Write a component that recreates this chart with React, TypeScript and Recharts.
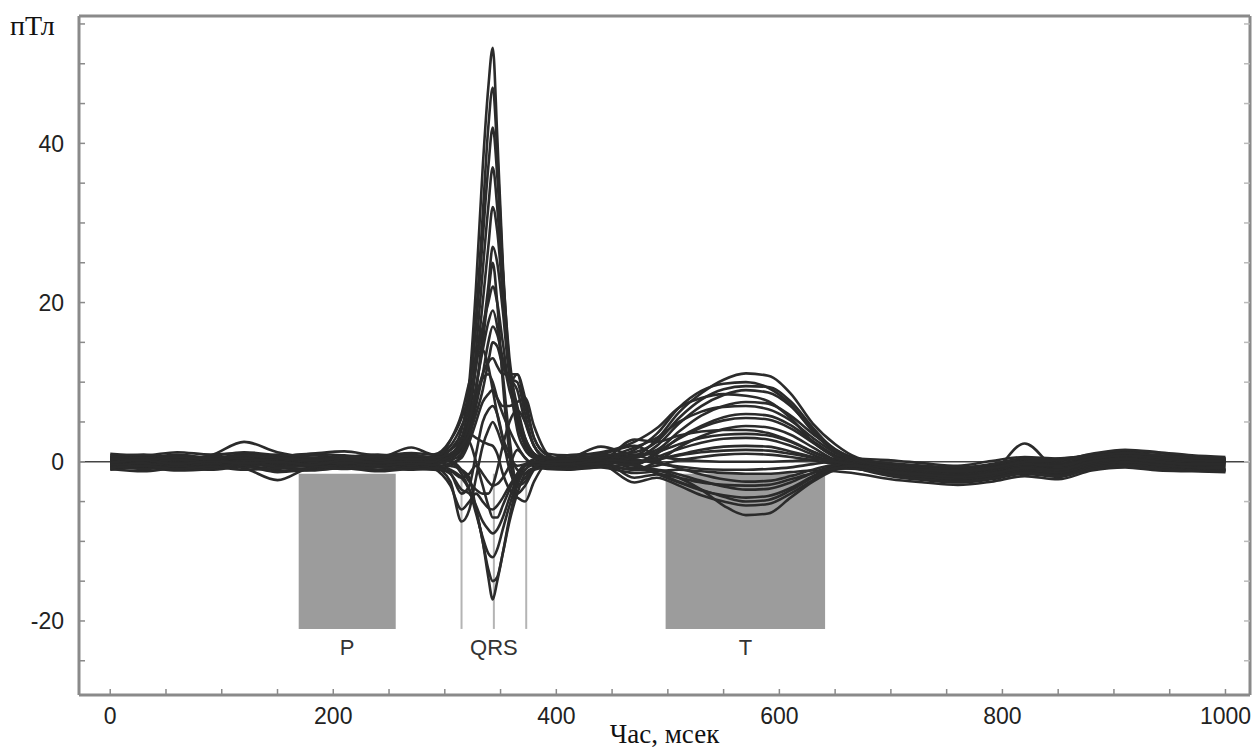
import { LineChart, Line, XAxis, YAxis, ReferenceLine, ReferenceArea } from "recharts";

// Sample times, ms (denser through the QRS complex)
const TIME_MS = [
  0, 30, 60, 90, 120, 150, 180, 210, 240, 270, 290,
  305, 315, 322, 328, 334, 339, 343, 347, 352, 358, 365, 372, 380, 392,
  410, 440, 470,
  490, 510, 530, 550, 570, 590, 610, 630, 650, 670,
  700, 730, 760, 790, 820, 850, 880, 910, 940, 970, 1000,
];

// Channel traces, pT
const CH_01 = [
  0.4, 0.6, 0.3, 0.8, 2.5, 1.2, 0.5, 0.2, 0.4, 0.6, 0.5,
  1.5, 4, 10, 22, 37, 47, 52, 41, 25, 12, 5, 2, 0.8, 0.4,
  0.3, 0.6, 0.8,
  2.8, 6.2, 8.6, 10.3, 11.1, 10.8, 8.6, 4.8, 2.2, 0.5,
  -0.3, -0.6, -0.8, -0.5, 0.2, 0.3, 0.8, 1.0, 0.6, 0.3, 0.2,
];
const CH_02 = [
  -0.2, 0.1, 0.3, 0.0, 0.5, 0.3, -0.2, 0.1, 0.5, 0.9, 0.4,
  1.0, 3.0, 8, 18, 31, 42, 47, 39, 24, 11, 4, 1.5, 0.5, 0.2,
  0.1, 0.4, 0.5,
  2.0, 4.8, 7.0, 8.4, 9.0, 8.7, 7.0, 4.0, 1.6, 0.3,
  -0.6, -1.0, -1.2, -0.8, -0.2, 0.3, 0.5, 0.7, 0.4, 0.1, 0.0,
];
const CH_03 = [
  0.8, 0.5, 0.9, 0.4, 0.2, 0.6, 1.0, 0.8, 0.5, 1.8, 0.9,
  2.7, 5.5, 9, 17, 28, 37, 42, 36, 24, 13, 6, 2.5, 1.0, 0.5,
  0.5, 1.9, 0.9,
  1.5, 3.8, 5.8, 7.0, 7.5, 7.3, 5.8, 3.5, 1.5, 0.4,
  0.2, -0.2, -0.5, 0.1, 0.6, 0.4, 0.9, 1.4, 1.1, 0.6, 0.4,
];
const CH_04 = [
  -0.5, -0.8, -0.4, -0.6, -0.2, -0.7, -0.9, -0.5, -0.3, -0.6, -0.4,
  0.5, 2.0, 6, 14, 24, 32, 37, 32, 22, 12, 6, 2.5, 0.5, -0.3,
  -0.5, 0.2, 1.5,
  3.5, 6.8, 8.9, 9.8, 10.0, 9.3, 7.2, 3.8, 1.2, -0.4,
  -1.2, -1.6, -2.0, -1.5, -0.8, -1.2, -0.3, 0.2, -0.2, -0.5, -0.6,
];
const CH_05 = [
  0.2, -0.1, 0.4, 0.2, 0.7, -0.3, 0.1, 0.4, -0.2, 0.3, 0.1,
  0.8, 2.5, 6, 12, 20, 27, 32, 29, 21, 12, 7, 3, 1.0, 0.2,
  0.0, 0.3, -0.4,
  1.0, 3.0, 4.5, 5.6, 6.0, 5.8, 4.6, 2.6, 0.8, -0.3,
  -0.9, -1.3, -1.0, -1.4, -0.6, -0.9, 0.1, 0.6, 0.2, -0.2, -0.3,
];
const CH_06 = [
  -1.0, -0.7, -1.1, -0.9, -0.4, -1.2, -0.8, -0.6, -1.0, -0.7, -0.9,
  -0.5, 1.0, 4, 9, 16, 22, 27, 25, 19, 11, 9, 5, 2, 0.2,
  -0.6, -0.3, -1.0,
  0.0, 1.8, 3.2, 4.1, 4.5, 4.3, 3.4, 1.8, 0.2, -0.8,
  -1.8, -2.3, -2.6, -2.2, -1.5, -1.9, -0.8, -0.4, -0.8, -1.0, -1.1,
];
const CH_07 = [
  0.6, 0.9, 0.5, 0.7, 1.2, 0.8, 0.3, 0.6, 0.9, 0.4, 0.7,
  2.0, 4.5, 7, 12, 17, 20, 22, 20, 15, 10, 11, 8, 3, 1.0,
  0.8, 1.2, 2.5,
  4.2, 6.8, 8.0, 8.5, 8.3, 7.6, 5.5, 2.5, 0.6, -0.2,
  -0.5, -0.9, -1.1, -0.6, 0.0, 0.4, 0.7, 1.2, 0.8, 0.5, 0.4,
];
const CH_08 = [
  -0.3, -0.6, -0.2, -0.5, -0.1, -0.4, -0.6, -0.2, -0.5, -0.3, -0.2,
  0.2, 1.0, 3.0, 7, 11, 15, 17, 16, 13, 9, 6, 3, 1.0, 0.0,
  -0.3, 0.0, -0.2,
  0.6, 1.6, 2.4, 2.9, 3.0, 2.8, 2.0, 0.9, -0.2, -0.7,
  -1.3, -1.7, -1.9, -1.6, -1.1, -1.4, -0.5, -0.1, -0.5, -0.8, -0.9,
];
const CH_09 = [
  0.1, 0.4, 0.0, 0.3, 0.5, 0.9, 0.4, 0.0, 0.2, 0.5, 0.3,
  0.5, 1.5, 4, 8, 11, 12.5, 13, 12, 11, 11, 11, 7, 3, 0.8,
  0.2, 0.6, 0.1,
  0.3, 0.9, 1.5, 1.9, 2.0, 1.9, 1.3, 0.6, -0.2, -0.5,
  -0.8, -1.1, -1.5, -1.0, -0.4, -0.7, 0.3, 0.8, 0.4, 0.1, 0.0,
];
const CH_10 = [
  -0.7, -0.4, -0.8, -0.3, -0.5, -0.9, -0.3, -0.6, -0.2, -0.5, -0.6,
  -0.2, 0.5, 2.5, 5, 7.5, 8.5, 9, 8, 7, 7, 7.5, 8, 4.5, 1.0,
  -0.2, 0.2, -0.3,
  1.2, 2.9, 4.3, 5.2, 5.5, 5.3, 4.2, 2.4, 0.6, -0.5,
  -1.4, -1.8, -2.2, -1.8, -1.2, -1.6, -0.6, -0.2, -0.6, -0.9, -1.0,
];
const CH_11 = [
  0.3, 0.0, 0.4, 0.1, 0.3, -0.2, 0.2, 0.5, 0.1, 0.3, -0.5,
  -2.5, -7.5, -6, -2, 2, 4, 5, 4, 2, 0.5, -0.5, -0.3, 0.0, 0.2,
  0.1, 0.4, -0.8,
  -0.5, 0.2, 0.6, 0.9, 1.0, 0.9, 0.6, 0.2, -0.3, -0.6,
  -1.0, -1.2, -1.4, -1.1, -0.3, -0.6, 0.4, 0.9, 0.5, 0.2, 0.1,
];
const CH_12 = [
  -0.9, -1.2, -0.8, -1.0, -0.6, -1.3, -1.0, -0.8, -1.2, -0.9, -1.0,
  -1.2, -2.0, -1.5, -0.5, -1.5, -2.5, -3, -2.8, -2, -0.5, 1.5, 0.5, -0.6, -0.9,
  -1.0, -0.7, -1.4,
  -1.2, -1.0, -1.2, -1.4, -1.5, -1.5, -1.3, -1.1, -1.2, -1.5,
  -2.2, -2.6, -2.9, -2.5, -1.8, -2.2, -1.1, -0.7, -1.1, -1.2, -1.3,
];
const CH_13 = [
  0.0, -0.3, 0.2, -0.1, 0.1, -0.5, -0.2, 0.1, -0.3, 0.0, -0.8,
  -3, -6, -5, -4, -5, -5.8, -6, -5.5, -4.5, -3, -1.5, -0.5, 0.0, -0.2,
  -0.4, -0.1, 0.8,
  0.0, -0.8, -1.6, -2.2, -2.5, -2.4, -1.8, -1.0, -0.4, -0.6,
  -1.1, -1.4, -1.6, -1.2, -0.6, -0.9, 0.0, 0.5, 0.1, -0.2, -0.2,
];
const CH_14 = [
  -0.4, -0.2, -0.6, -0.3, -0.8, -2.3, -0.7, -0.4, -0.6, -0.2, -0.5,
  -1.0, -2.0, -3.5, -5.5, -7.5, -8.5, -9, -8.5, -7, -4.5, -2, -0.5, -0.3, -0.6,
  -0.8, -0.5, -1.0,
  -1.0, -1.6, -2.4, -3.1, -3.5, -3.4, -2.6, -1.4, -0.6, -0.9,
  -1.6, -2.0, -2.3, -1.9, -1.3, -1.7, -0.7, -0.3, -0.7, -1.0, -1.0,
];
const CH_15 = [
  0.5, 0.7, 0.3, 0.6, 0.2, 0.4, 0.8, 0.5, 0.3, 0.7, 0.4,
  0.0, -1.5, -3.5, -6.5, -9.5, -11.5, -12, -11, -8.5, -5.5, -2.5, -0.5, 0.3, 0.5,
  0.3, 0.6, -0.2,
  -1.5, -2.6, -3.6, -4.2, -4.5, -4.3, -3.3, -1.8, -0.5, 0.1,
  -0.4, -0.7, -0.9, -0.6, 0.1, -0.2, 0.6, 1.1, 0.7, 0.4, 0.3,
];
const CH_16 = [
  -0.6, -0.9, -0.5, -0.8, -0.3, -0.7, -1.1, -0.7, -0.4, -0.8, -0.6,
  -1.5, -3.5, -4, -6, -10, -13.5, -15, -14.5, -11.5, -7.5, -4, -1.5, -0.8, -0.6,
  -0.7, -0.4, -2.6,
  -2.0, -3.0, -4.2, -5.0, -5.5, -5.3, -4.0, -2.3, -0.9, -0.8,
  -1.5, -1.9, -2.1, -1.7, -1.0, -1.3, -0.4, 0.0, -0.4, -0.7, -0.8,
];
const CH_17 = [
  0.0, 0.2, -0.2, 0.1, -0.4, 0.3, 0.0, -0.3, 0.2, -0.1, 0.0,
  -0.5, -1.0, -2, -6, -10, -14.5, -17.3, -15, -11.5, -7, -3, -1.0, -0.3, 0.0,
  0.2, 0.0, -0.5,
  -1.0, -2.0, -3.5, -5.5, -6.7, -6.5, -4.5, -2.5, -1.0, -0.3,
  -0.9, -1.2, -1.5, -1.1, -0.3, -0.6, 0.3, 0.7, 0.3, 0.0, -0.1,
];
const CH_18 = [
  1.0, 0.8, 1.2, 0.9, 1.1, 0.7, 1.0, 1.3, 0.8, 1.1, 0.9,
  1.5, 2.7, 3.5, 3, 2.5, 2.2, 2, 1, -1.5, -3.5, -4.5, -5, -2.5, 0.0,
  0.8, 1.0, 2.0,
  0.8, 0.3, 0.1, 0.0, 0.0, 0.0, 0.1, 0.3, 0.4, 0.2,
  -0.2, -0.5, -0.7, -0.3, 0.4, 0.2, 1.0, 1.5, 1.2, 0.8, 0.6,
];
const CH_19 = [
  -0.2, 0.2, -0.1, 0.3, 0.0, 0.2, -0.4, 0.0, 0.3, -0.1, 0.2,
  2.7, 6, 10, 13, 14, 12, 9, 6, 3, 1, -1, -1.5, -0.8, -0.3,
  -0.2, 0.1, 2.8,
  2.5, 3.3, 3.8, 4.0, 4.0, 3.6, 2.6, 1.3, 0.2, -0.4,
  -1.0, -1.3, -1.6, -1.2, 2.3, -0.8, 0.2, 0.6, 0.3, 0.0, -0.1,
];
const CH_20 = [
  0.7, 0.4, 0.8, 0.5, 0.9, 0.6, 0.3, 0.7, 0.4, 0.8, 0.6,
  0.8, 1.5, 4, 9, 15, 21, 25, 20, 10, 1, -4, -3, -1, 0.0,
  0.4, 0.7, 0.3,
  -0.2, -0.6, -0.9, -1.0, -1.0, -0.9, -0.7, -0.3, 0.0, -0.2,
  -0.7, -1.0, -1.2, -0.8, -0.2, -0.4, 0.5, 1.0, 0.6, 0.3, 0.2,
];
const CH_21 = [
  -0.3, -0.5, -0.1, -0.4, 0.2, -0.6, -0.3, -0.1, -0.5, -0.2, -0.4,
  0.5, 2.0, 5, 8, 10.5, 11, 10, 8, 6, 4, 2, 0.5, -0.3, -0.5,
  -0.4, -0.2, 0.6,
  1.2, 2.2, 3.0, 3.4, 3.5, 3.3, 2.5, 1.2, 0.1, -0.6,
  -1.2, -1.5, -1.8, -1.4, -0.9, -1.1, -0.2, 0.3, -0.1, -0.4, -0.5,
];
const CH_22 = [
  0.3, 0.5, 0.2, 0.6, 0.4, 0.1, 0.5, 0.3, 0.6, 0.2, 0.4,
  0.2, -1.0, -2.5, -3.5, -4, -4, -3, -1, 2, 5, 6.5, 5, 2, 0.5,
  0.3, 0.5, 1.8,
  3.0, 5.0, 6.3, 6.9, 7.0, 6.6, 5.2, 3.0, 1.1, 0.0,
  -0.5, -0.8, -1.0, -0.7, -0.1, 0.1, 0.6, 1.0, 0.7, 0.4, 0.3,
];
const CH_23 = [
  -0.8, -0.5, -0.9, -0.6, -1.0, -0.8, -0.5, -0.9, -0.7, -1.0, -0.8,
  -1.5, -4, -3, 1, 5, 6.5, 7, 6, 3, -1, -3, -2, -1.0, -0.7,
  -0.9, -0.6, -0.4,
  -1.4, -2.0, -2.6, -2.9, -3.0, -2.9, -2.2, -1.4, -0.8, -0.9,
  -1.7, -2.2, -2.5, -2.1, -1.4, -1.8, -0.9, -0.5, -0.9, -1.1, -1.2,
];
const CH_24 = [
  0.2, 0.0, 0.3, -0.2, 0.1, 0.3, 0.0, -0.2, 0.1, 0.4, 0.2,
  0.6, 2.0, 5, 9.5, 14, 17.5, 19, 17, 11, 3, -3, -2.5, -0.8, 0.0,
  0.1, 0.3, 0.0,
  0.3, 0.8, 1.2, 1.4, 1.5, 1.4, 1.0, 0.5, 0.0, -0.4,
  -0.8, -1.1, -1.3, -0.9, -0.3, -0.5, 0.4, 0.8, 0.5, 0.2, 0.1,
];
const CH_25 = [
  -0.1, 0.2, -0.3, 0.1, -0.2, 0.0, -0.4, 0.2, -0.1, 0.1, 0.0,
  1.5, 3, 2.5, 0, -3, -5.5, -7, -7, -5.5, -3.5, -1.5, -0.3, 0.0, -0.2,
  -0.3, 0.2, -2.0,
  -1.6, -2.5, -3.5, -4.4, -5.0, -4.8, -3.6, -2.0, -0.8, -0.5,
  -1.3, -1.6, -1.9, -1.5, -0.8, -1.0, 0.0, 0.4, 0.0, -0.3, -0.3,
];
const CH_26 = [
  0.4, 0.2, 0.6, 0.3, 0.8, 0.5, 0.2, 0.5, 0.7, 0.3, 0.5,
  1.0, 2.0, 3.5, 6, 9, 12.5, 15, 14.5, 12, 10.5, 10, 6, 2, 0.5,
  0.4, 0.8, 1.2,
  2.5, 5.5, 7.8, 9.1, 9.5, 9.4, 7.6, 4.3, 1.4, 0.2,
  -0.6, -1.0, -1.2, -0.8, 0.0, 0.2, 0.7, 1.1, 0.8, 0.5, 0.4,
];

const CHANNELS = [
  CH_01, CH_02, CH_03, CH_04, CH_05, CH_06, CH_07, CH_08, CH_09, CH_10, CH_11, CH_12, CH_13,
  CH_14, CH_15, CH_16, CH_17, CH_18, CH_19, CH_20, CH_21, CH_22, CH_23, CH_24, CH_25, CH_26,
];

// Axis ticks
const X_TICKS = [0, 50, 100, 150, 200, 250, 300, 350, 400, 450, 500, 550, 600, 650, 700, 750, 800, 850, 900, 950, 1000];
const X_LABELS = [0, 200, 400, 600, 800, 1000];
const Y_TICKS = [-25, -20, -15, -10, -5, 0, 5, 10, 15, 20, 25, 30, 35, 40, 45, 50, 55];
const Y_LABELS = [-20, 0, 20, 40];

// Wave intervals, ms
const P_WAVE = [169, 256];
const T_WAVE = [498, 641];
const QRS_MARKS = [315, 344, 373];
const WAVE_TOP = -1.5;
const WAVE_BOTTOM = -21;

const X_DOMAIN = [-28, 1022];
const Y_DOMAIN = [-29.3, 56];

const SANS = "'Liberation Sans', Arial, Helvetica, sans-serif";
const SERIF = "'Liberation Serif', 'Times New Roman', serif";
const FRAME = "#8a8a8a";

const rows = TIME_MS.map((t, i) => {
  const row: Record<string, number> = { t };
  CHANNELS.forEach((ch, k) => {
    row[`ch${k}`] = ch[i];
  });
  return row;
});

const XTick = ({ x, y, payload }: any) =>
  X_LABELS.includes(payload.value) ? (
    <text x={x} y={y} textAnchor="middle" fontSize={23} fill="#222" fontFamily={SANS}>
      {payload.value}
    </text>
  ) : (
    <g />
  );

const YTick = ({ x, y, payload }: any) =>
  Y_LABELS.includes(payload.value) ? (
    <text x={x} y={y} dy="0.36em" textAnchor="end" fontSize={23} fill="#222" fontFamily={SANS}>
      {payload.value}
    </text>
  ) : (
    <g />
  );

const NoTick = () => <g />;

export default function App() {
  return (
    <div style={{ position: "fixed", left: 0, top: 0, width: 1253, height: 749, background: "#fff" }}>
      <div
        style={{
          position: "absolute",
          left: 10,
          top: 12,
          fontFamily: SERIF,
          fontSize: 28,
          lineHeight: "28px",
          color: "#111",
        }}
      >
        пТл
      </div>
      <LineChart width={1253} height={749} data={rows} margin={{ top: 15, right: 2, bottom: 0, left: 0 }}>
        <XAxis
          dataKey="t"
          type="number"
          domain={X_DOMAIN}
          allowDataOverflow
          ticks={X_TICKS}
          interval={0}
          height={54}
          tickSize={-6}
          tickMargin={35}
          axisLine={{ stroke: FRAME, strokeWidth: 3 }}
          tickLine={{ stroke: FRAME, strokeWidth: 1.5 }}
          tick={XTick}
          label={{ value: "Час, мсек", position: "insideBottom", offset: 6, fontSize: 27, fill: "#111", fontFamily: SERIF }}
        />
        <XAxis
          xAxisId="top"
          orientation="top"
          type="number"
          domain={X_DOMAIN}
          allowDataOverflow
          ticks={X_TICKS}
          interval={0}
          height={1}
          tickSize={-6}
          axisLine={{ stroke: FRAME, strokeWidth: 3 }}
          tickLine={{ stroke: "#bbb", strokeWidth: 1.5 }}
          tick={NoTick}
        />
        <YAxis
          type="number"
          domain={Y_DOMAIN}
          allowDataOverflow
          ticks={Y_TICKS}
          interval={0}
          width={79}
          tickSize={-6}
          tickMargin={21}
          axisLine={{ stroke: FRAME, strokeWidth: 3 }}
          tickLine={{ stroke: FRAME, strokeWidth: 1.5 }}
          tick={YTick}
        />
        <YAxis
          yAxisId="right"
          orientation="right"
          type="number"
          domain={Y_DOMAIN}
          allowDataOverflow
          ticks={Y_TICKS}
          interval={0}
          width={1}
          tickSize={-6}
          axisLine={{ stroke: FRAME, strokeWidth: 3 }}
          tickLine={{ stroke: "#bbb", strokeWidth: 1.5 }}
          tick={NoTick}
        />

        <ReferenceArea
          x1={P_WAVE[0]}
          x2={P_WAVE[1]}
          y1={WAVE_BOTTOM}
          y2={WAVE_TOP}
          fill="#9c9c9c"
          fillOpacity={1}
          stroke="none"
          label={{ value: "P", position: "bottom", offset: 10, fontSize: 22, fill: "#333", fontFamily: SANS }}
        />
        <ReferenceArea
          x1={T_WAVE[0]}
          x2={T_WAVE[1]}
          y1={WAVE_BOTTOM}
          y2={WAVE_TOP}
          fill="#9c9c9c"
          fillOpacity={1}
          stroke="none"
          label={{ value: "T", position: "bottom", offset: 10, fontSize: 22, fill: "#333", fontFamily: SANS }}
        />
        <ReferenceArea
          x1={QRS_MARKS[0]}
          x2={QRS_MARKS[2]}
          y1={WAVE_BOTTOM}
          y2={WAVE_TOP}
          fill="none"
          fillOpacity={0}
          stroke="none"
          label={{ value: "QRS", position: "bottom", offset: 10, fontSize: 22, fill: "#333", fontFamily: SANS }}
        />
        {QRS_MARKS.map((m) => (
          <ReferenceLine
            key={m}
            segment={[
              { x: m, y: WAVE_TOP },
              { x: m, y: WAVE_BOTTOM },
            ]}
            stroke="#b4b4b4"
            strokeWidth={2}
          />
        ))}
        <ReferenceLine y={0} stroke="#444" strokeWidth={1.5} />

        {CHANNELS.map((_, k) => (
          <Line
            key={k}
            dataKey={`ch${k}`}
            type="monotone"
            stroke="#2b2b2b"
            strokeWidth={2.6}
            dot={false}
            isAnimationActive={false}
          />
        ))}
      </LineChart>
    </div>
  );
}
